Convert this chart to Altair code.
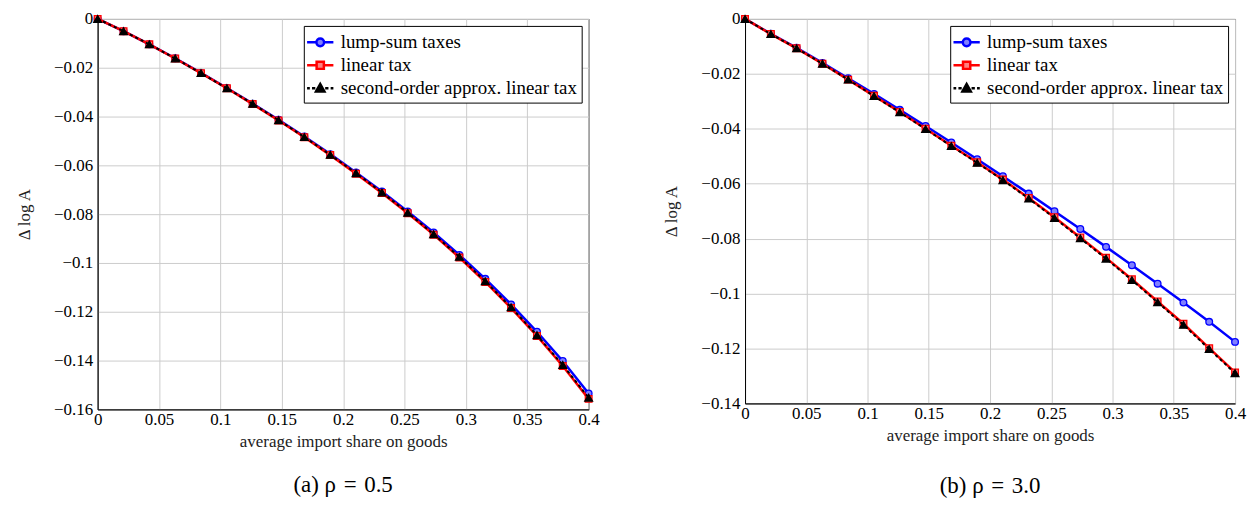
import altair as alt
import pandas as pd

# ---------------- data ----------------
x_vals = [0, 0.0211, 0.0421, 0.0632, 0.0842, 0.1053, 0.1263, 0.1474, 0.1684, 0.1895,
          0.2105, 0.2316, 0.2526, 0.2737, 0.2947, 0.3158, 0.3368, 0.3579, 0.3789, 0.4]

# panel (a) rho = 0.5
lump_a = [0, -0.0050, -0.0104, -0.0161, -0.0221, -0.0283, -0.0347, -0.0413, -0.0482, -0.0554,
          -0.0629, -0.0707, -0.0789, -0.0875, -0.0967, -0.1065, -0.1170, -0.1282, -0.1402, -0.1535]
linear_a = [0, -0.0050, -0.0104, -0.0162, -0.0222, -0.0284, -0.0349, -0.0416, -0.0485, -0.0558,
            -0.0634, -0.0713, -0.0796, -0.0884, -0.0978, -0.1078, -0.1185, -0.1299, -0.1422, -0.1557]
approx_a = [0, -0.0050, -0.0104, -0.0162, -0.0222, -0.0284, -0.0348, -0.0415, -0.0484, -0.0557,
            -0.0632, -0.0711, -0.0794, -0.0882, -0.0975, -0.1075, -0.1182, -0.1296, -0.1418, -0.1552]

# panel (b) rho = 3.0
lump_b = [0, -0.0054, -0.0105, -0.0160, -0.0216, -0.0273, -0.0331, -0.0390, -0.0450, -0.0511,
          -0.0573, -0.0636, -0.0700, -0.0765, -0.0830, -0.0897, -0.0964, -0.1033, -0.1103, -0.1176]
linear_b = [0, -0.0055, -0.0107, -0.0163, -0.0221, -0.0280, -0.0339, -0.0400, -0.0462, -0.0522,
            -0.0585, -0.0652, -0.0722, -0.0796, -0.0870, -0.0948, -0.1029, -0.1110, -0.1199, -0.1287]
approx_b = [0, -0.0055, -0.0107, -0.0163, -0.0221, -0.0281, -0.0340, -0.0401, -0.0463, -0.0524,
            -0.0587, -0.0654, -0.0725, -0.0799, -0.0873, -0.0951, -0.1032, -0.1114, -0.1202, -0.1290]

series_names = ["lump-sum taxes", "linear tax", "second-order approx. linear tax"]
x_ticks = [0, 0.05, 0.1, 0.15, 0.2, 0.25, 0.3, 0.35, 0.4]
y_ticks_a = [0, -0.02, -0.04, -0.06, -0.08, -0.1, -0.12, -0.14, -0.16]
y_ticks_b = [0, -0.02, -0.04, -0.06, -0.08, -0.1, -0.12, -0.14]
x_title = "average import share on goods"
y_title = "Δ log A"
caption_a = "(a) ρ\u2004=\u20040.5"
caption_b = "(b) ρ\u2004=\u20043.0"

FONT = "Liberation Serif"

line_colors = ["#0000ff", "#ff0000", "#000000"]
fill_colors = ["#7f7fff", "#ff7f7f", "#000000"]
shapes = ["circle", "square", "triangle-up"]
sizes = [45, 45, 60]
legend_paths = [
    "M-1.2,0H-0.35M0.35,0H1.2M-0.35,0A0.35,0.35 0 1,0 0.35,0A0.35,0.35 0 1,0 -0.35,0Z",
    "M-1.2,0H-0.33M0.33,0H1.2M-0.33,-0.33H0.33V0.33H-0.33Z",
    "M-1.2,0H-0.95M-0.75,0H-0.45M0.45,0H0.75M0.95,0H1.2M-0.38,0.3L0,-0.38L0.38,0.3Z",
]


def make_df(lump, lin, approx):
    rows = []
    for name, vals in zip(series_names, [lump, lin, approx]):
        for xv, yv in zip(x_vals, vals):
            rows.append({"x": xv, "y": yv, "series": name})
    return pd.DataFrame(rows)


def panel(df, ymin, yticks, width, height, caption, offset):
    xenc = alt.X("x:Q", scale=alt.Scale(domain=[0, 0.4], nice=False, zero=False),
                 axis=alt.Axis(values=x_ticks, format="~g", title=x_title, labelFlush=False))
    yenc = alt.Y("y:Q", scale=alt.Scale(domain=[ymin, 0], nice=False, zero=False),
                 axis=alt.Axis(values=yticks, format="~g", title=y_title, labelFlush=False))
    base = alt.Chart(df).encode(x=xenc, y=yenc)
    layers = []
    for i, name in enumerate(series_names):
        sub = base.transform_filter(alt.datum.series == name)
        if i == 2:
            ln = sub.mark_line(color=line_colors[i], strokeWidth=2, strokeDash=[3, 3])
        else:
            ln = sub.mark_line(color=line_colors[i], strokeWidth=2.5)
        pt = sub.mark_point(shape=shapes[i], filled=True, fill=fill_colors[i],
                            stroke=line_colors[i], strokeWidth=1.3, size=sizes[i], opacity=1)
        layers += [ln, pt]

    leg = alt.Legend(title=None, orient="top-right", offset=7, fillColor="white",
                     strokeColor="black", padding=4, labelFont=FONT, labelFontSize=19,
                     labelColor="black", symbolSize=484, symbolStrokeWidth=2.5,
                     rowPadding=0, labelOffset=8, cornerRadius=0, labelLimit=500)
    legend_layer = alt.Chart(df).transform_filter("false").mark_point(opacity=1, filled=True).encode(
        shape=alt.Shape("series:N", scale=alt.Scale(domain=series_names, range=legend_paths), legend=leg),
        stroke=alt.Stroke("series:N", scale=alt.Scale(domain=series_names, range=line_colors), legend=leg),
        fill=alt.Fill("series:N", scale=alt.Scale(domain=series_names, range=fill_colors), legend=leg),
    )
    layers.append(legend_layer)
    return alt.layer(*layers).properties(
        width=width, height=height,
        title=alt.TitleParams(caption, orient="bottom", anchor="middle", frame="group",
                              font=FONT, fontSize=23, fontWeight="normal", color="black",
                              offset=offset),
    )


left = panel(make_df(lump_a, linear_a, approx_a), -0.16, y_ticks_a, 493, 392, caption_a, 25)
right = panel(make_df(lump_b, linear_b, approx_b), -0.14, y_ticks_b, 492, 386, caption_b, 32)

chart = alt.hconcat(left, right, spacing=62).resolve_scale(
    shape="independent", stroke="independent", fill="independent"
).resolve_legend(
    shape="independent", stroke="independent", fill="independent"
).properties(
    padding={"left": 7, "top": 0, "right": 0, "bottom": 0}
).configure_view(
    stroke="black", strokeWidth=1
).configure_axis(
    grid=True, gridColor="#cccccc", gridWidth=1,
    domainColor="black", ticks=False, labelPadding=5,
    labelFont=FONT, labelFontSize=17, labelColor="black",
    titleFont=FONT, titleFontSize=17, titleFontWeight="normal", titleColor="#222222",
).configure_axisX(titlePadding=6, labelPadding=2).configure_axisY(titlePadding=20)

chart.save("out.html", embed_options={"renderer": "svg", "actions": False})
